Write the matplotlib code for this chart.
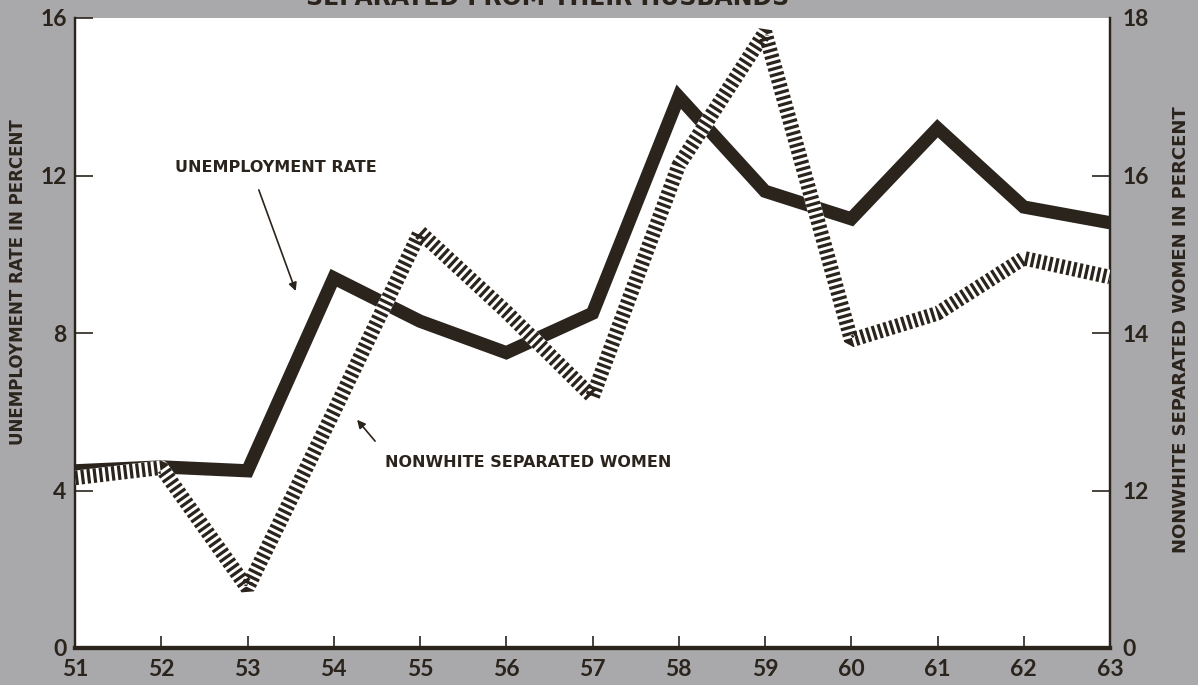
"""Unemployment rate vs. nonwhite women separated from their husbands, 1951-63."""
import matplotlib.pyplot as plt

# two-digit years on the x axis
years = [51, 52, 53, 54, 55, 56, 57, 58, 59, 60, 61, 62, 63]
# left scale, percent
unemployment_rate = [4.5, 4.6, 4.5, 9.4, 8.3, 7.5, 8.5, 14.0, 11.6, 10.9, 13.2, 11.2, 10.8]
# right scale, percent (scale is broken below 12)
separated_women = [12.16, 12.29, 10.76, 13.0, 15.28, 14.27, 13.19, 16.13, 17.82, 13.91, 14.25, 14.95, 14.71]

left_ticks = [4, 8, 12, 16]
right_ticks = [12, 14, 16]

BG = "#a9a8ab"
INK = "#2b241d"
TEXT_FONT = ["DejaVu Sans"]
NUM_FONT = ["Lato", "DejaVu Sans"]

fig = plt.figure(figsize=(11.98, 6.85), dpi=100, facecolor=BG)
ax = fig.add_axes([75 / 1198, 1 - 648 / 685, (1110 - 75) / 1198, (648 - 18) / 685])
ax.set_facecolor("white")
ax.set_xlim(51, 63)
ax.set_ylim(0, 16)

ax2 = ax.twinx()
ax2.set_ylim(10, 18)

# solid unemployment line
ax.plot(years, unemployment_rate, color=INK, lw=9.5, solid_joinstyle="miter",
        solid_capstyle="butt", zorder=3)

# hatched line: white band with short dark dashes across it
ax2.plot(years, separated_women, color="white", lw=10.5, solid_joinstyle="round",
         solid_capstyle="butt", zorder=3)
ax2.plot(years, separated_women, color=INK, lw=10.5, linestyle=(0, (0.22, 0.2)),
         dash_capstyle="butt", dash_joinstyle="bevel", zorder=4)

# spines
for a in (ax, ax2):
    a.spines["top"].set_visible(False)
    a.spines["left"].set_linewidth(1.6)
    a.spines["right"].set_linewidth(1.6)
    a.spines["bottom"].set_linewidth(3)
    for s in a.spines.values():
        s.set_color(INK)

# x axis
ax.set_xticks(years[1:-1])
ax.set_xticklabels([str(y) for y in years[1:-1]])
ax.set_xticks([years[0], years[-1]], labels=[str(years[0]), str(years[-1])], minor=True)
ax.tick_params(axis="x", which="major", direction="in", length=9, width=1.2, color=INK, pad=8)
ax.tick_params(axis="x", which="minor", length=0, pad=8)

# left axis
ax.set_yticks(left_ticks)
ax.set_yticks([0], labels=["0"], minor=True)
ax.tick_params(axis="y", which="major", direction="in", length=13, width=1.2, color=INK, pad=6)
ax.tick_params(axis="y", which="minor", length=0, pad=6)

# right axis (0 sits where 10 would be)
ax2.set_yticks(right_ticks)
ax2.set_yticks([10, 18], labels=["0", "18"], minor=True)
ax2.tick_params(axis="y", which="major", direction="in", length=13, width=1.2, color=INK, pad=9)
ax2.tick_params(axis="y", which="minor", length=0, pad=9)

for lab in ax.get_xticklabels(which="both") + ax.get_yticklabels(which="both") + ax2.get_yticklabels(which="both"):
    lab.set_fontfamily(NUM_FONT)
    lab.set_fontweight("bold")
    lab.set_fontsize(16.5)
    lab.set_color(INK)

# axis titles
fig.text(18 / 1198, 1 - 282 / 685, "UNEMPLOYMENT RATE IN PERCENT", rotation=90,
         ha="center", va="center", fontsize=12, weight="bold", color=INK, family=TEXT_FONT)
fig.text(1181 / 1198, 1 - 330 / 685, "NONWHITE SEPARATED WOMEN IN PERCENT", rotation=90,
         ha="center", va="center", fontsize=13, weight="bold", color=INK, family=TEXT_FONT)

# chart title, cut off by the top edge as in the source
fig.text(548 / 1198, 1 - 5 / 685, "SEPARATED FROM THEIR HUSBANDS", ha="center", va="baseline",
         fontsize=17, weight="bold", color=INK, family=TEXT_FONT)

# labels with arrows
ax.annotate("", xy=(53.57, 9.0), xytext=(53.12, 11.7),
            arrowprops=dict(arrowstyle="-|>", color=INK, lw=1.2, mutation_scale=12))
ax.text(53.33, 12.2, "UNEMPLOYMENT RATE", ha="center", va="center", fontsize=11.5,
        weight="bold", color=INK, family=TEXT_FONT)
ax.annotate("", xy=(54.25, 5.85), xytext=(54.5, 5.2),
            arrowprops=dict(arrowstyle="-|>", color=INK, lw=1.2, mutation_scale=12))
ax.text(56.26, 4.7, "NONWHITE SEPARATED WOMEN", ha="center", va="center", fontsize=11.5,
        weight="bold", color=INK, family=TEXT_FONT)

fig.savefig("out.png", dpi=100, facecolor=BG)
